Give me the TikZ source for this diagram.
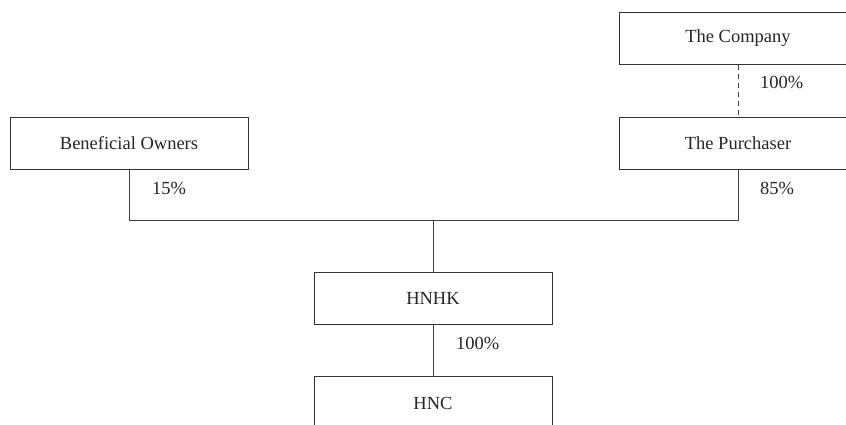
\documentclass[tikz,border=0pt]{standalone}
\usepackage{fontspec}
\setmainfont{Liberation Serif}
\begin{document}
\begin{tikzpicture}[x=1pt,y=-1pt,
  entity/.style={draw=black!80,line width=0.8pt,minimum width=238pt,minimum height=52pt,inner sep=0pt,font=\fontsize{18.5}{20}\selectfont,text=black!85},
  link/.style={draw=black!75,line width=0.8pt},
  pct/.style={anchor=west,font=\fontsize{18.5}{20}\selectfont,text=black!85,inner sep=0pt}]
\clip (0,0) rectangle (846,425);
\fill[white] (0,0) rectangle (846,425);
\node[entity] (comp) at (738,38.5) {The Company};
\node[entity] (purch) at (738,143.5) {The Purchaser};
\node[entity] (bo) at (129,143) {Beneficial Owners};
\node[entity] (hnhk) at (433,298) {HNHK};
\node[entity,minimum height=54pt] (hnc) at (433,403) {};
\node[font=\fontsize{18.5}{20}\selectfont,text=black!85] (hnctext) at (433,403) {HNC};
\coordinate (jl) at (129,220);
\coordinate (jr) at (738,220);
\coordinate (jc) at (433,220);
\draw[link,dash pattern=on 5pt off 4pt] (comp.south) -- (purch.north);
\draw[link] (bo.south) -- (jl) -- (jr) -- (purch.south);
\draw[link] (jc) -- (hnhk.north);
\draw[link] (hnhk.south) -- (hnc.north);
\node[pct] (p100a) at (760,82) {100\%};
\node[pct] (p85) at (760,188) {85\%};
\node[pct] (p15) at (152,188) {15\%};
\node[pct] (p100b) at (456,343) {100\%};
\end{tikzpicture}
\end{document}
